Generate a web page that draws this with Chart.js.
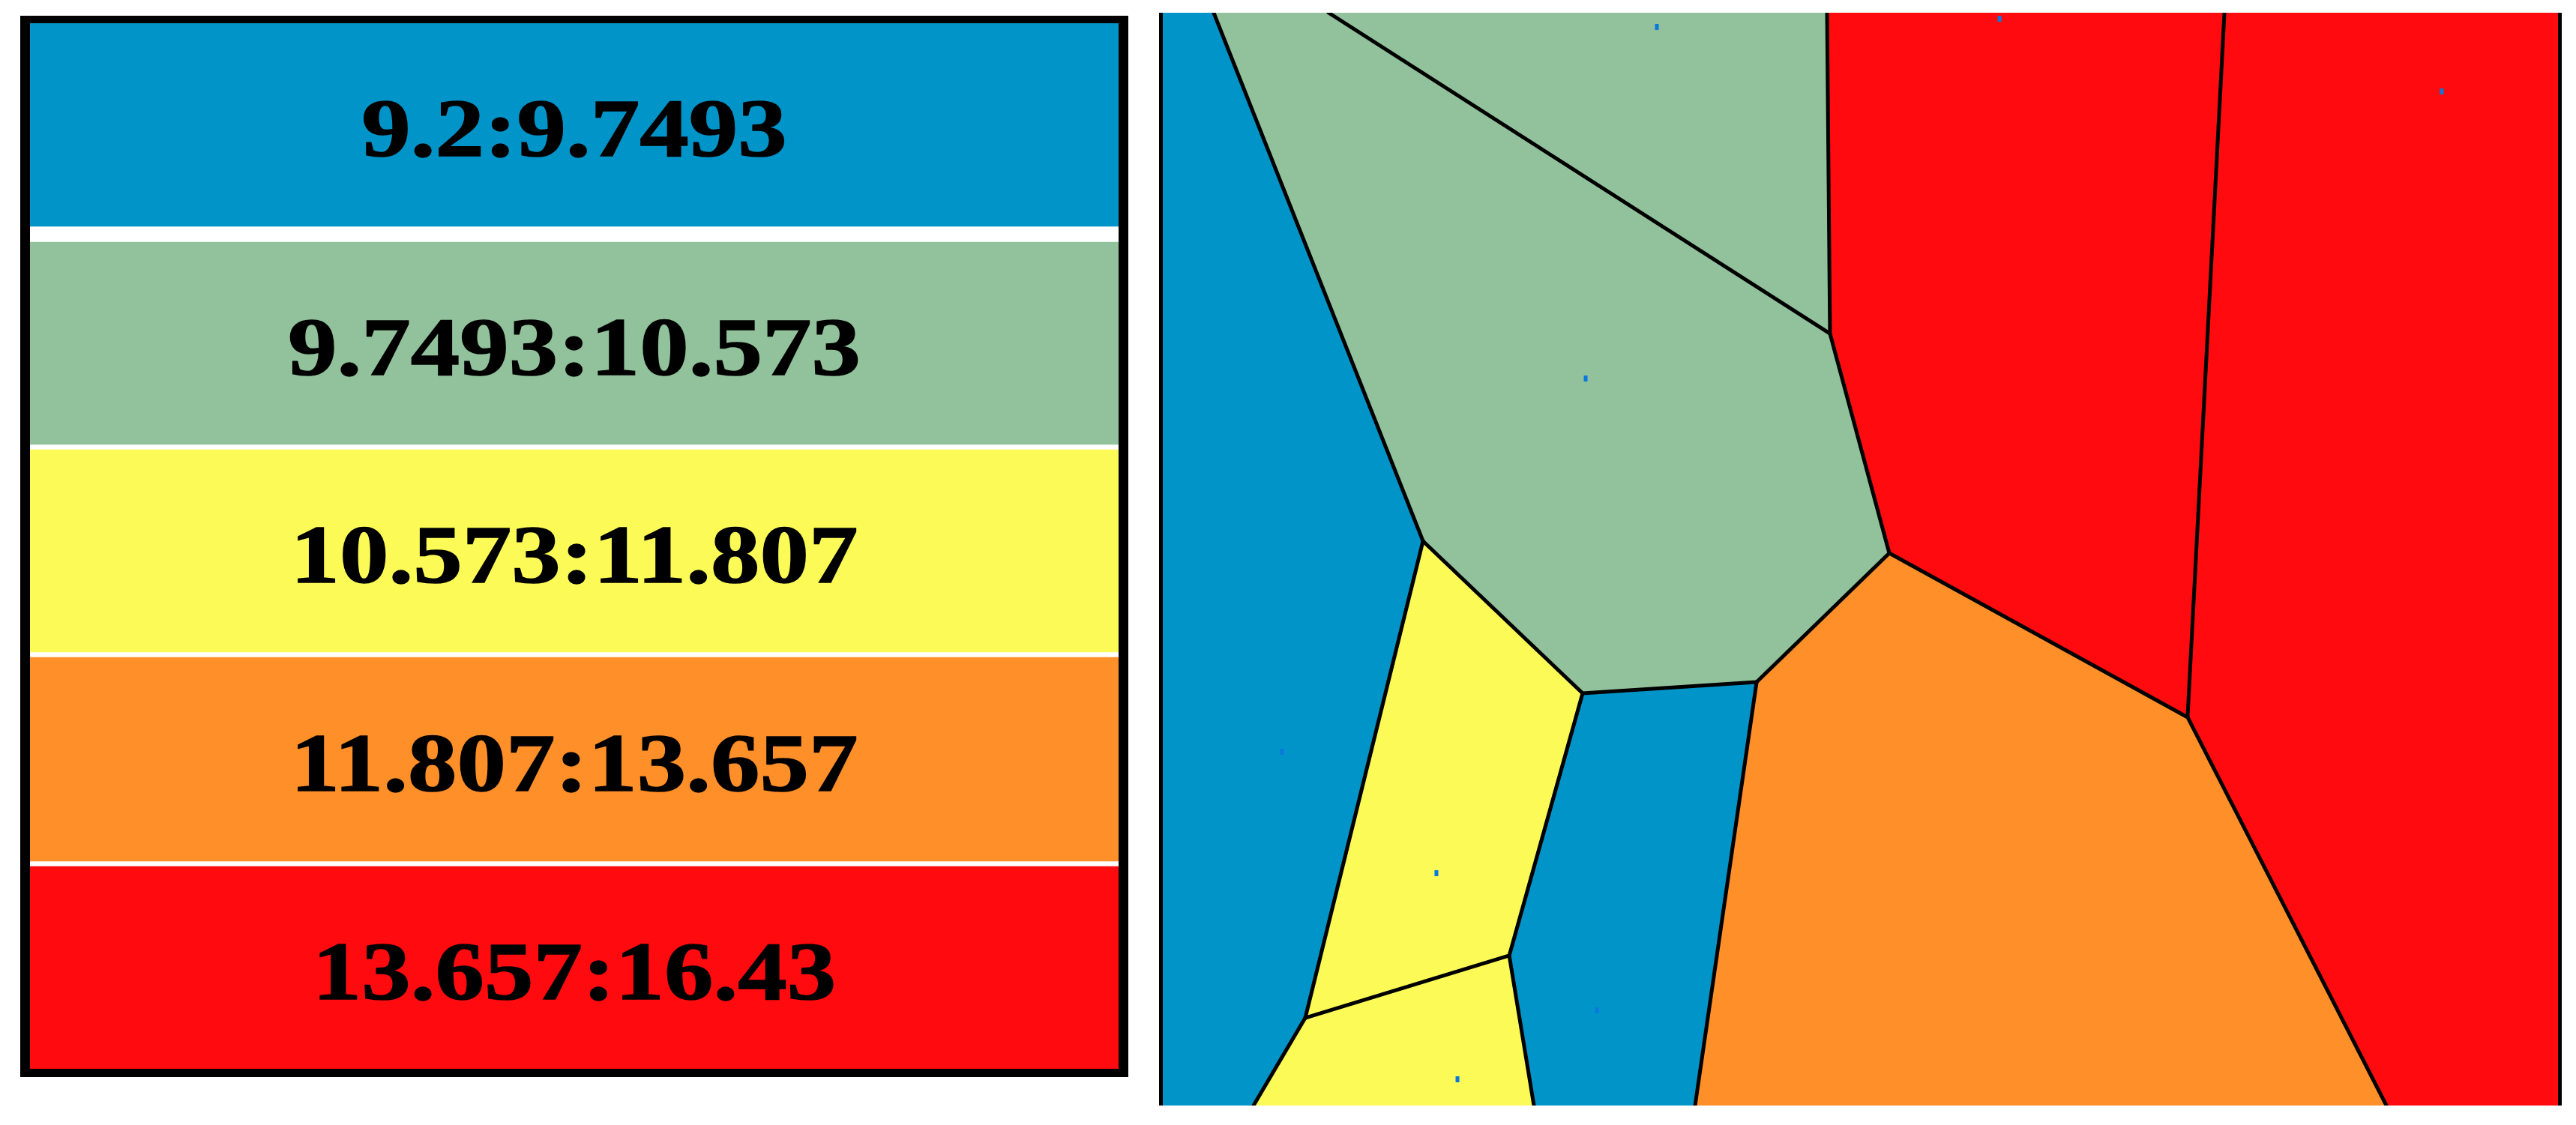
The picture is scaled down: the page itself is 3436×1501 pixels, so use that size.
<!DOCTYPE html>
<html>
<head>
<meta charset="utf-8">
<title>Voronoi map</title>
<script src="https://cdn.jsdelivr.net/npm/chart.js@4/dist/chart.umd.min.js"></script>
<style>
    html, body { margin: 0; background: #fff; }
    canvas { display: block; }
    .box { position: absolute; border-style: solid; border-color: #000; }
    #legend-box {
        left: 27px;
        top: 21px;
        border-width: 10px 13px 11px 13px;
    }
    #map-box {
        left: 1546px;
        top: 17px;
        border-width: 0 5px;
    }
</style>
</head>
<body>
<div class="box" id="legend-box"><canvas id="legend-chart" width="1452" height="1395"></canvas></div>
<div class="box" id="map-box"><canvas id="map-chart" width="1861" height="1458"></canvas></div>
<script>
const legendLabels = ["9.2:9.7493", "9.7493:10.573", "10.573:11.807", "11.807:13.657", "13.657:16.43"];
const legendColors = ["#0094c9", "#91c29b", "#fbfa56", "#ff8f28", "#ff0a0e"];
const legendFrom = [0, 292, 569, 846, 1125];
const legendTo = [271, 562, 839, 1118, 1395];

// map is in 0-100 units both ways, y going up
const nodeX = [0, 3.65, 11.88, 47.61, 76.09, 100, 18.65, 47.82, 52.07, 73.45, 30.09, 42.56, 24.83, 10.21, 0, 6.5, 26.6, 38.15, 87.7, 100];
const nodeY = [100, 100, 100, 100, 100, 100, 51.65, 70.64, 50.55, 35.53, 37.72, 38.75, 13.72, 8.02, 0, 0, 0, 0, 0, 0];

const cellNodes = [
    [0, 1, 6, 13, 15, 14],
    [1, 2, 7, 8, 11, 10, 6],
    [2, 3, 7],
    [3, 4, 9, 8, 7],
    [4, 5, 19, 18, 9],
    [6, 10, 12, 13],
    [13, 12, 16, 15],
    [10, 11, 17, 16, 12],
    [11, 8, 9, 18, 17]
];
const cellBands = [0, 1, 1, 4, 4, 2, 2, 0, 3];

const edgeFrom = [1, 2, 3, 7, 4, 8, 6, 8, 10, 10, 12, 6, 13, 12, 11, 9];
const edgeTo = [6, 7, 7, 8, 9, 9, 10, 11, 11, 12, 13, 13, 15, 16, 17, 18];

const siteX = [35.41, 59.97, 91.67, 30.31, 8.54, 19.61, 31.11, 21.12];
const siteY = [98.7, 99.45, 92.8, 66.53, 32.37, 21.26, 8.71, 2.4];

const node = i => ({ x: nodeX[i], y: nodeY[i] });

const legendText = {
    id: "legendText",
    afterDatasetsDraw(chart) {
        const { ctx } = chart;
        const yScale = chart.scales.y;
        const middle = (chart.chartArea.left + chart.chartArea.right) / 2;

        ctx.save();
        ctx.font = "bold 111px 'Liberation Serif'";
        ctx.fillStyle = "#000";
        ctx.strokeStyle = "#000";
        ctx.lineWidth = 1.5;
        ctx.textAlign = "center";
        ctx.textBaseline = "alphabetic";
        legendLabels.forEach((label, i) => {
            const y = yScale.getPixelForValue((legendFrom[i] + legendTo[i]) / 2);
            ctx.save();
            // the reference text is stretched sideways
            ctx.translate(middle, y + 41.5);
            ctx.scale(1.18, 1);
            ctx.fillText(label, 0, 0);
            ctx.strokeText(label, 0, 0);
            ctx.restore();
        });
        ctx.restore();
    }
};

new Chart(
    document.getElementById("legend-chart"),
    {
        type: "bar",
        data: {
            labels: ["bands"],
            datasets: legendLabels.map((label, i) => ({
                label: label,
                data: [[legendFrom[i], legendTo[i]]],
                backgroundColor: legendColors[i],
                borderWidth: 0,
                grouped: false,
                barPercentage: 1,
                categoryPercentage: 1
            }))
        },
        options: {
            responsive: false,
            animation: false,
            events: [],
            plugins: { legend: { display: false }, tooltip: { enabled: false } },
            scales: {
                x: { display: false },
                y: { display: false, min: 0, max: 1395, reverse: true }
            }
        },
        plugins: [legendText]
    }
);

const cellDatasets = cellNodes.map((nodes, i) => ({
    data: nodes.concat(nodes[0]).map(node),
    showLine: true,
    fill: "shape",
    backgroundColor: legendColors[cellBands[i]],
    borderColor: "transparent",
    borderWidth: 0,
    pointRadius: 0,
    tension: 0
}));

const edgeDatasets = edgeFrom.map((from, i) => ({
    data: [node(from), node(edgeTo[i])],
    showLine: true,
    fill: false,
    borderColor: "#000",
    borderWidth: 5,
    borderCapStyle: "round",
    pointRadius: 0,
    tension: 0
}));

const siteDataset = {
    data: siteX.map((x, i) => ({ x: x, y: siteY[i] })),
    showLine: false,
    pointStyle: "line",
    pointRotation: 90,
    pointRadius: 4,
    pointBorderWidth: 5,
    pointBorderColor: "#0a78dc"
};

new Chart(
    document.getElementById("map-chart"),
    {
        type: "scatter",
        data: {
            // first dataset is painted last
            datasets: [siteDataset, ...edgeDatasets, ...cellDatasets]
        },
        options: {
            responsive: false,
            animation: false,
            events: [],
            layout: { autoPadding: false },
            plugins: { legend: { display: false }, tooltip: { enabled: false } },
            scales: {
                x: { type: "linear", display: false, min: 0, max: 100 },
                y: { type: "linear", display: false, min: 0, max: 100 }
            }
        }
    }
);
</script>
</body>
</html>
